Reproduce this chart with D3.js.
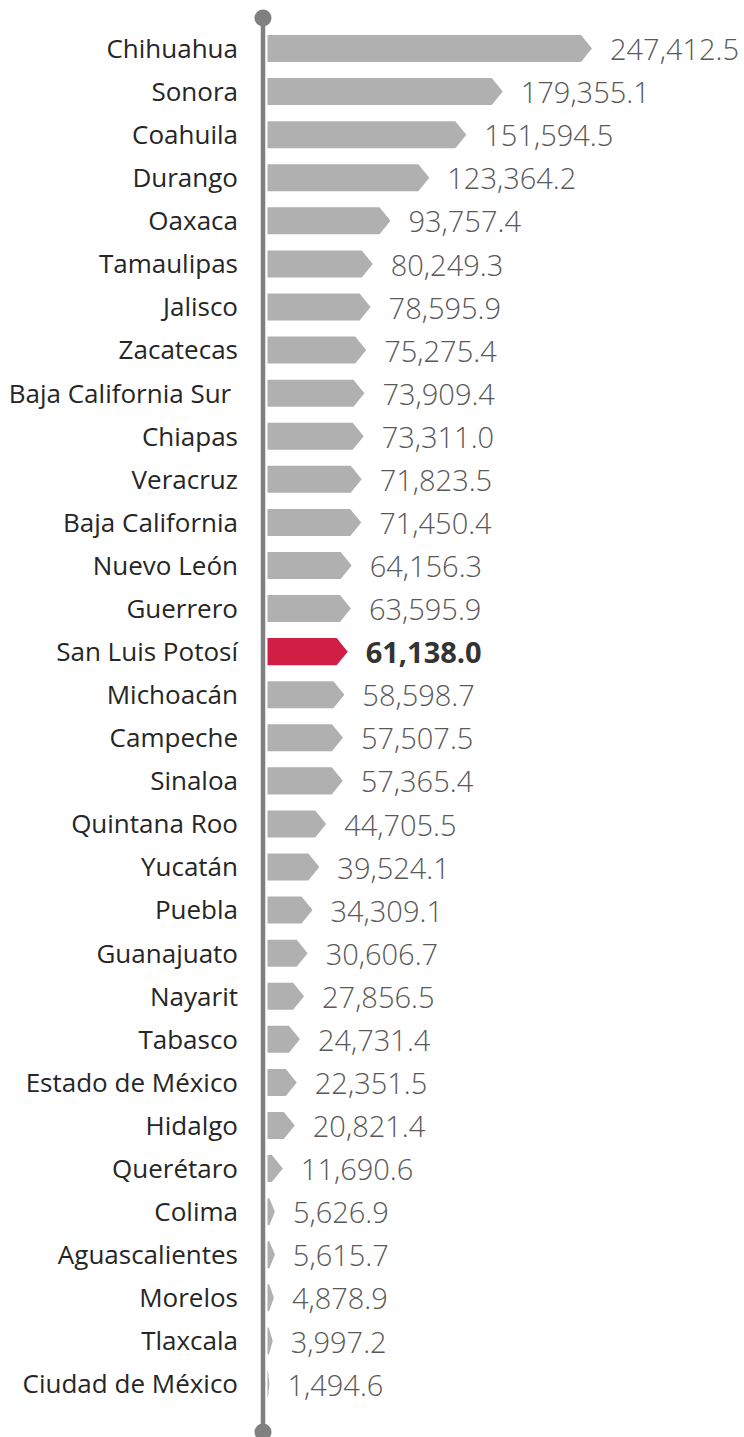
<!DOCTYPE html>
<html><head><meta charset="utf-8">
<script src="https://cdn.jsdelivr.net/npm/d3@7"></script>
<style>
html,body{margin:0;padding:0;background:#fff;}
svg{display:block;}
</style></head>
<body>
<svg id="chart" width="744" height="1437"></svg>
<script>
const states = ["Chihuahua","Sonora","Coahuila","Durango","Oaxaca","Tamaulipas","Jalisco","Zacatecas","Baja California Sur ","Chiapas","Veracruz","Baja California","Nuevo León","Guerrero","San Luis Potosí","Michoacán","Campeche","Sinaloa","Quintana Roo","Yucatán","Puebla","Guanajuato","Nayarit","Tabasco","Estado de México","Hidalgo","Querétaro","Colima","Aguascalientes","Morelos","Tlaxcala","Ciudad de México"];
const areas = [247412.5,179355.1,151594.5,123364.2,93757.4,80249.3,78595.9,75275.4,73909.4,73311.0,71823.5,71450.4,64156.3,63595.9,61138.0,58598.7,57507.5,57365.4,44705.5,39524.1,34309.1,30606.7,27856.5,24731.4,22351.5,20821.4,11690.6,5626.9,5615.7,4878.9,3997.2,1494.6];
const highlight = "San Luis Potosí";

const svg = d3.select("#chart");
const x = d3.scaleLinear().domain([0, d3.max(areas)]).range([267.5, 592]);
const y = d3.scaleBand().domain(states).range([26.96, 1405.54])
  .paddingInner(0.373).paddingOuter(0.1865);
const fmt = d3.format(",.1f");
const data = states.map((s,i)=>({name:s, value:areas[i]}));

// axis line
svg.append("line").attr("x1",263).attr("x2",263).attr("y1",18).attr("y2",1432)
  .attr("stroke","#808080").attr("stroke-width",4.5);
svg.append("circle").attr("cx",263).attr("cy",18).attr("r",8.5).attr("fill","#808080");
svg.append("circle").attr("cx",263).attr("cy",1432).attr("r",8.5).attr("fill","#808080");

function arrow(d){
  const x0 = x(0), x1 = x(d.value);
  const len = x1 - x0;
  const dep = Math.min(11, len*0.75);
  const t = y(d.name), h = y.bandwidth(), m = t + h/2;
  return `M${x0},${t}L${x1-dep},${t}L${x1},${m}L${x1-dep},${t+h}L${x0},${t+h}Z`;
}

svg.append("g").selectAll("path").data(data).join("path")
  .attr("d", arrow)
  .attr("fill", d=> d.name===highlight ? "#D01F45" : "#B0B0B0");

svg.append("g").selectAll("text").data(data).join("text")
  .attr("x", 238)
  .attr("y", d=> y(d.name)+y.bandwidth()/2)
  .attr("dy","0.36em")
  .attr("text-anchor","end")
  .style("white-space","pre")
  .attr("font-family","'Open Sans', sans-serif")
  .attr("font-size",26)
  .attr("fill","#262626")
  .text(d=>d.name);

svg.append("g").selectAll("text").data(data).join("text")
  .attr("x", d=> x(d.value)+18)
  .attr("y", d=> y(d.name)+y.bandwidth()/2)
  .attr("dy","0.4em")
  .attr("font-family","'Open Sans', sans-serif")
  .attr("font-size",29)
  .attr("font-weight", d=> d.name===highlight ? 700 : 300)
  .attr("fill", d=> d.name===highlight ? "#333333" : "#595959")
  .text(d=>fmt(d.value));
</script>
</body></html>
